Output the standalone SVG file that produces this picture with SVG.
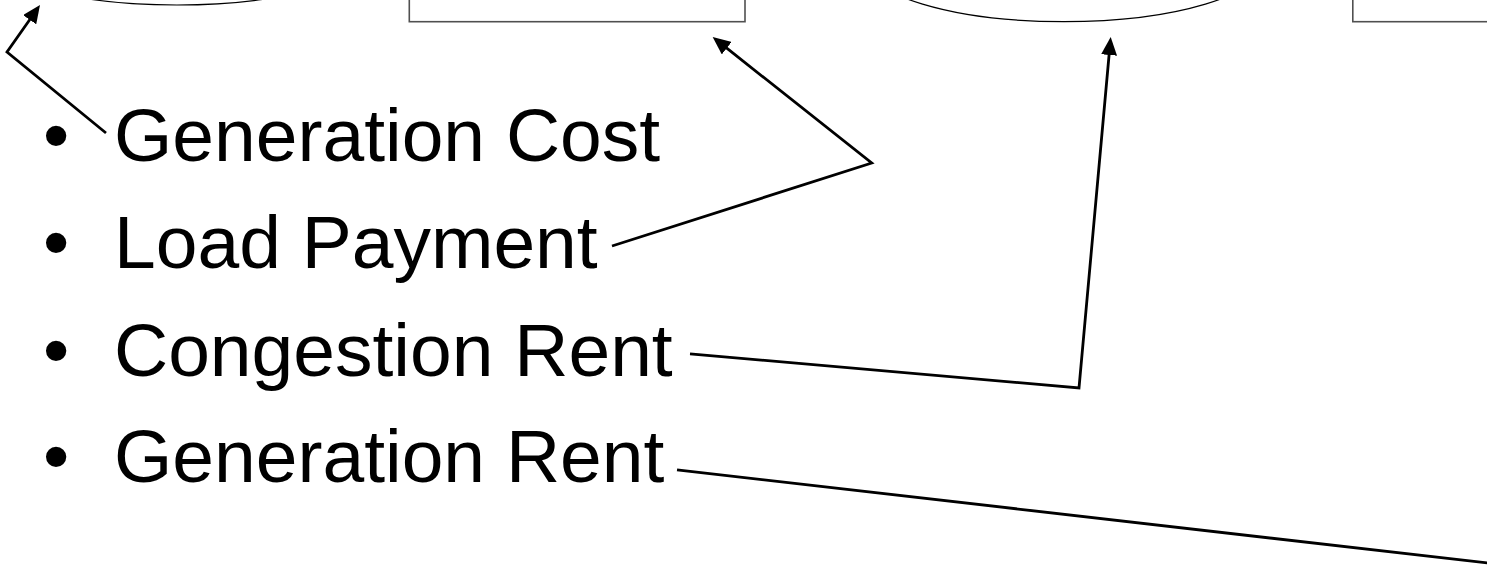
<svg xmlns="http://www.w3.org/2000/svg" width="1487" height="566" viewBox="0 0 1487 566">
  <style>
    .oval { fill: #ffffff; stroke: #000000; stroke-width: 1.2; }
    .box { fill: #ffffff; stroke: #505050; stroke-width: 1.6; }
    .label { font-family: "Liberation Sans", Arial, sans-serif; font-size: 75px; fill: #000000; }
    .link { fill: none; stroke: #000000; stroke-width: 2.8; stroke-linejoin: miter; }
  </style>
  <defs>
    <marker id="head" markerUnits="userSpaceOnUse" viewBox="0 0 18 16" markerWidth="18" markerHeight="16" refX="8" refY="8" orient="auto">
      <path d="M0,0 L18,8 L0,16 Z" fill="#000000"/>
    </marker>
  </defs>
  <rect width="1487" height="566" fill="#ffffff"/>

  <!-- shapes cut by the top edge -->
  <g id="node-oval-left">
    <ellipse class="oval" cx="177" cy="-55" rx="200" ry="60"/>
  </g>
  <g id="node-box-left">
    <rect class="box" x="409.3" y="-80" width="335.7" height="101.7"/>
  </g>
  <g id="node-oval-right">
    <ellipse class="oval" cx="1064" cy="-38.3" rx="200" ry="60"/>
  </g>
  <g id="node-box-right">
    <rect class="box" x="1352.8" y="-80" width="200" height="101.7"/>
  </g>

  <!-- bulleted list -->
  <g id="item-generation-cost">
    <text class="label" x="43" y="161">•</text>
    <text class="label" x="114" y="161">Generation Cost</text>
  </g>
  <g id="item-load-payment">
    <text class="label" x="43" y="268">•</text>
    <text class="label" x="114" y="268">Load Payment</text>
  </g>
  <g id="item-congestion-rent">
    <text class="label" x="43" y="376">•</text>
    <text class="label" x="114" y="376">Congestion Rent</text>
  </g>
  <g id="item-generation-rent">
    <text class="label" x="43" y="482">•</text>
    <text class="label" x="114" y="482">Generation Rent</text>
  </g>

  <!-- connectors -->
  <g id="connectors">
    <polyline class="link" points="612,246 871.7,163 720.5,43.2" marker-end="url(#head)"/>
    <polyline class="link" points="106,133 7,52 34.25,13.18" marker-end="url(#head)"/>
    <polyline class="link" points="690,353.8 1079,388 1109.8,47" marker-end="url(#head)"/>
    <line class="link" x1="677" y1="469.8" x2="1490" y2="563.3"/>
  </g>
</svg>
